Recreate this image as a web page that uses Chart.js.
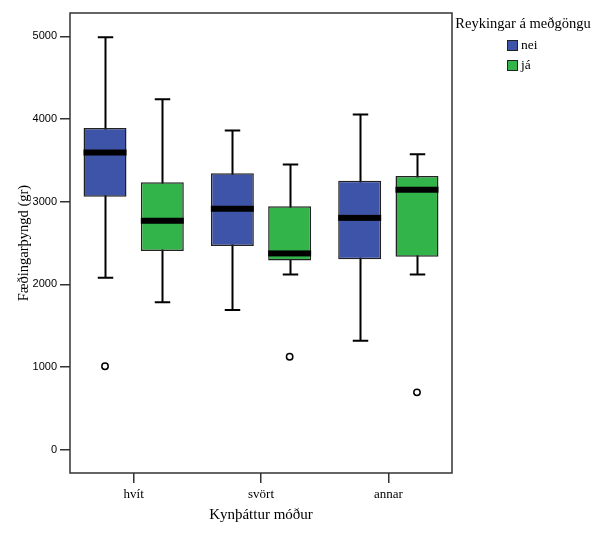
<!DOCTYPE html>
<html>
<head>
<meta charset="utf-8">
<script src="https://cdn.jsdelivr.net/npm/chart.js@4.4.1/dist/chart.umd.min.js"></script>
<style>
  html, body { margin: 0; padding: 0; background: #fff; }
  #wrap { width: 606px; height: 539px; position: relative; }
</style>
</head>
<body>
<div id="wrap"><canvas id="c" width="606" height="539"></canvas></div>
<script>
// ---- data ----
const categories = ['hvít', 'svört', 'annar'];
const seriesNames = ['nei', 'já'];
const legendTitle = 'Reykingar á meðgöngu';
const xTitle = 'Kynþáttur móður';
const yTitle = 'Fæðingarþyngd (gr)';
const yTicks = [0, 1000, 2000, 3000, 4000, 5000];

// nei (non-smokers)
const neiMin    = [2080, 1690, 1320];
const neiQ1     = [3060, 2465, 2305];
const neiMedian = [3595, 2915, 2805];
const neiQ3     = [3890, 3345, 3255];
const neiMax    = [4990, 3860, 4055];
const neiOutliers = [[1010], [], []];

// já (smokers)
const jaMin    = [1785, 2120, 2120];
const jaQ1     = [2405, 2290, 2335];
const jaMedian = [2770, 2375, 3145];
const jaQ3     = [3235, 2945, 3310];
const jaMax    = [4240, 3450, 3575];
const jaOutliers = [[], [1125], [695]];

const colors = ['#3E54A8', '#33B44A'];

const stats = [
  { min: neiMin, median: neiMedian, max: neiMax, outliers: neiOutliers },
  { min: jaMin, median: jaMedian, max: jaMax, outliers: jaOutliers }
];

const serif = "'Liberation Serif', 'Times New Roman', serif";
const sans = "'Liberation Sans', Arial, sans-serif";

const boxExtras = {
  id: 'boxExtras',
  beforeDatasetsDraw(chart) {
    const ctx = chart.ctx, y = chart.scales.y;
    ctx.save();
    ctx.strokeStyle = '#000';
    ctx.lineWidth = 2;
    stats.forEach((s, d) => {
      const meta = chart.getDatasetMeta(d);
      meta.data.forEach((bar, i) => {
        const cx = Math.round(bar.x) + 0.5;
        const cap = bar.width * 0.36;
        const yMax = y.getPixelForValue(s.max[i]);
        const yMin = y.getPixelForValue(s.min[i]);
        ctx.beginPath();
        ctx.moveTo(cx, yMax); ctx.lineTo(cx, yMin);
        ctx.moveTo(cx - cap / 2, yMax); ctx.lineTo(cx + cap / 2, yMax);
        ctx.moveTo(cx - cap / 2, yMin); ctx.lineTo(cx + cap / 2, yMin);
        ctx.stroke();
      });
    });
    ctx.restore();
  },
  afterDatasetsDraw(chart) {
    const ctx = chart.ctx, y = chart.scales.y, a = chart.chartArea;
    ctx.save();
    stats.forEach((s, d) => {
      const meta = chart.getDatasetMeta(d);
      meta.data.forEach((bar, i) => {
        const w = bar.width;
        const ym = y.getPixelForValue(s.median[i]);
        ctx.fillStyle = '#000';
        ctx.fillRect(bar.x - w / 2, ym - 3, w, 6);
        ctx.strokeStyle = '#000';
        ctx.lineWidth = 1.5;
        s.outliers[i].forEach(v => {
          ctx.beginPath();
          ctx.arc(bar.x, y.getPixelForValue(v), 3.2, 0, Math.PI * 2);
          ctx.fillStyle = '#fff';
          ctx.fill();
          ctx.stroke();
        });
      });
    });
    // frame around plot area
    ctx.strokeStyle = '#333';
    ctx.lineWidth = 1.5;
    ctx.strokeRect(a.left, a.top, a.right - a.left, a.bottom - a.top);
    ctx.restore();
  },
  afterDraw(chart) {
    const ctx = chart.ctx;
    ctx.save();
    ctx.fillStyle = '#000';
    ctx.textBaseline = 'middle';
    ctx.textAlign = 'center';
    ctx.font = '14.5px ' + serif;
    ctx.fillText(legendTitle, 523, 24);
    chart.data.datasets.forEach((ds, d) => {
      const top = 40 + d * 20;
      ctx.fillStyle = ds.backgroundColor;
      ctx.fillRect(507, top, 11, 11);
      ctx.strokeStyle = '#222';
      ctx.lineWidth = 1;
      ctx.strokeRect(507.5, top + 0.5, 10, 10);
      ctx.fillStyle = '#000';
      ctx.textAlign = 'left';
      ctx.font = '13.5px ' + serif;
      ctx.fillText(ds.label, 521, top + 5.5);
    });
    ctx.restore();
  }
};

new Chart(document.getElementById('c'), {
  type: 'bar',
  data: {
    labels: categories,
    datasets: seriesNames.map((name, d) => ({
      label: name,
      data: categories.map((c, i) => d === 0 ? [neiQ1[i], neiQ3[i]] : [jaQ1[i], jaQ3[i]]),
      backgroundColor: colors[d],
      borderColor: '#222',
      borderWidth: 1.5,
      borderSkipped: false,
      categoryPercentage: 0.9,
      barPercentage: 0.75
    }))
  },
  options: {
    responsive: false,
    animation: false,
    devicePixelRatio: 1,
    layout: { padding: { left: 0, top: 13, right: 154, bottom: 0 } },
    plugins: { legend: { display: false }, tooltip: { enabled: false } },
    scales: {
      x: {
        offset: true,
        grid: { display: true, drawOnChartArea: false, offset: false, tickLength: 10, color: '#333', lineWidth: 1.5 },
        border: { display: false },
        ticks: { color: '#000', font: { family: serif, size: 13 }, padding: 4 },
        title: { display: true, text: xTitle, color: '#000', font: { family: serif, size: 15 }, padding: { top: 0, bottom: 15 } },
        afterFit(scale) { scale.height = 66; }
      },
      y: {
        min: -280,
        max: 5282,
        afterBuildTicks(scale) { scale.ticks = yTicks.map(v => ({ value: v })); },
        grid: { display: true, drawOnChartArea: false, tickLength: 10, color: '#333', lineWidth: 1.5 },
        border: { display: false },
        ticks: { color: '#000', font: { family: sans, size: 11 }, padding: 3, callback: (v) => String(v) },
        title: { display: true, text: yTitle, color: '#000', font: { family: serif, size: 14.5 }, padding: { top: 15, bottom: 0 } },
        afterFit(scale) { scale.width = 70; }
      }
    }
  },
  plugins: [boxExtras]
});
</script>
</body>
</html>
